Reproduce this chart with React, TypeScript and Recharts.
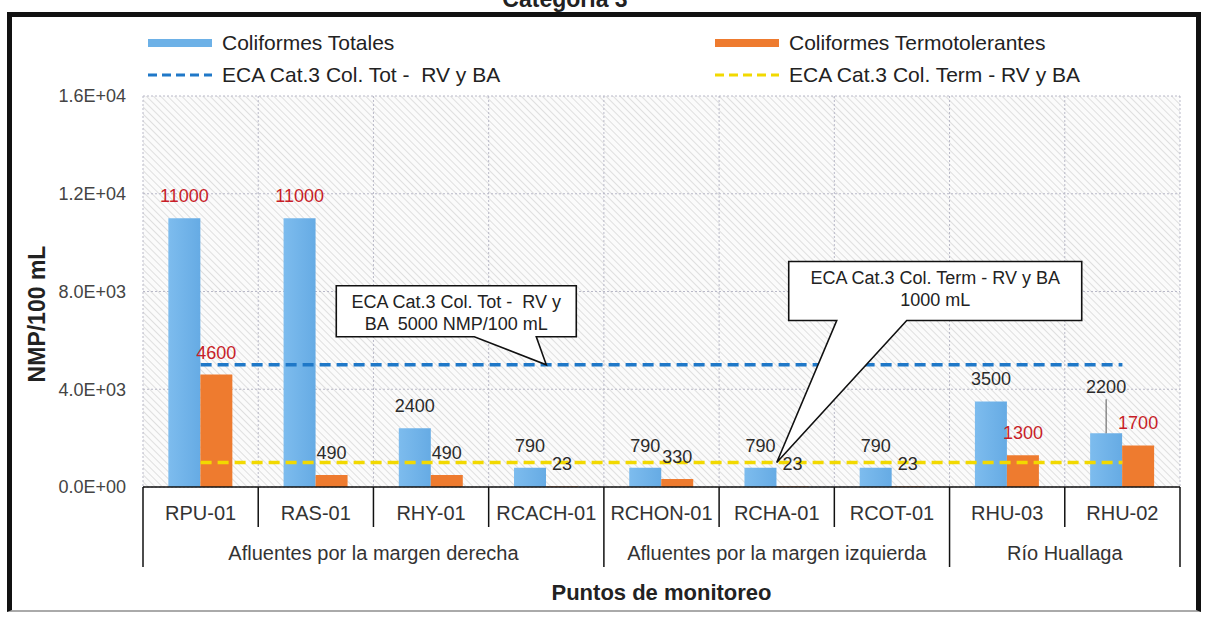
import React from 'react';
import {
  ComposedChart, Bar, Line, XAxis, YAxis, CartesianGrid, LabelList, ReferenceDot,
} from 'recharts';

const categories = ['RPU-01', 'RAS-01', 'RHY-01', 'RCACH-01', 'RCHON-01', 'RCHA-01', 'RCOT-01', 'RHU-03', 'RHU-02'];
const groupNames = ['Afluentes por la margen derecha', 'Afluentes por la margen izquierda', 'Río Huallaga'];
const groupSizes = [4, 3, 2];
const coliformesTotales = [11000, 11000, 2400, 790, 790, 790, 790, 3500, 2200];
const coliformesTermo = [4600, 490, 490, 23, 330, 23, 23, 1300, 1700];
const ecaTotales = 5000;
const ecaTermo = 1000;
const yTicks = [0, 4000, 8000, 12000, 16000];

const data = categories.map((name, i) => ({
  name,
  tot: coliformesTotales[i],
  term: coliformesTermo[i],
  ecaTot: ecaTotales,
  ecaTerm: ecaTermo,
}));

const W = 1206;
const H = 618;
const MARGIN = { top: 96, right: 26, bottom: 0, left: 0 };
const Y_W = 143;
const X_H = 131;
const PLOT_W = W - MARGIN.left - MARGIN.right - Y_W;
const BAND = PLOT_W / categories.length;
const FONT = '"Liberation Sans", Arial, sans-serif';
const RED = '#c81e28';
const DARK = '#2b2b2b';

// label for 2200 is lifted with a leader line so it clears the 1700 label
const raisedLabels: Record<string, number> = { 'RHU-02': 24 };

const sci = (v: number) => {
  if (v === 0) return '0.0E+00';
  const e = Math.floor(Math.log10(v));
  return `${(v / 10 ** e).toFixed(1)}E+${String(e).padStart(2, '0')}`;
};

const groupStarts = groupSizes.map((_, g) => groupSizes.slice(0, g).reduce((a, b) => a + b, 0));

const XTick = (props: any) => {
  const { x, payload, index } = props;
  const y0 = 487;
  const left = x - BAND / 2;
  const g = groupStarts.indexOf(index);
  const last = index === categories.length - 1;
  return (
    <g>
      <text x={x} y={y0 + 26} textAnchor="middle" dominantBaseline="central"
        fontFamily={FONT} fontSize={20} fill="#333">{payload.value}</text>
      <line x1={left} x2={left} y1={y0} y2={g >= 0 ? y0 + 80 : y0 + 40} stroke="#111" strokeWidth={1.5} />
      {last && <line x1={x + BAND / 2} x2={x + BAND / 2} y1={y0} y2={y0 + 80} stroke="#111" strokeWidth={1.5} />}
      {g >= 0 && (
        <text x={left + (groupSizes[g] * BAND) / 2} y={y0 + 66} textAnchor="middle" dominantBaseline="central"
          fontFamily={FONT} fontSize={20} fill="#333">{groupNames[g]}</text>
      )}
    </g>
  );
};

const makeLabel = (limit: number, withRaise: boolean) => (props: any) => {
  const { x, y, width, value, index } = props;
  const cx = x + width / 2;
  const raise = withRaise ? raisedLabels[categories[index]] || 0 : 0;
  const ty = y - 16 - raise;
  return (
    <g>
      <text x={cx} y={ty} textAnchor="middle" fontFamily={FONT} fontSize={18}
        fill={value > limit ? RED : DARK}>{value}</text>
      {raise > 0 && <line x1={cx} x2={cx} y1={ty + 6} y2={y} stroke="#555" strokeWidth={1} />}
    </g>
  );
};

const Callout = (props: any) => {
  const { viewBox, box, base, lines } = props;
  if (!viewBox) return null;
  const tx = viewBox.x;
  const ty = viewBox.y;
  const [bx0, by0, bx1, by1] = box.map((v: number, i: number) => (i % 2 === 0 ? tx + v : ty + v));
  const p0 = tx + base[0];
  const p1 = tx + base[1];
  const d = `M${bx0},${by0} L${bx1},${by0} L${bx1},${by1} L${p1},${by1} L${tx},${ty} L${p0},${by1} L${bx0},${by1} Z`;
  const cx = (bx0 + bx1) / 2;
  return (
    <g>
      <path d={d} fill="#fff" stroke="#111" strokeWidth={1.6} strokeLinejoin="miter" />
      {lines.map((t: string, i: number) => (
        <text key={i} x={cx} y={by0 + 22 + i * 22} textAnchor="middle" fontFamily={FONT}
          fontSize={18} fill="#222" style={{ whiteSpace: 'pre' }}>{t}</text>
      ))}
    </g>
  );
};

const legendItems = [
  { label: 'Coliformes Totales', kind: 'bar', color: '#6db1e7', x: 148, y: 43 },
  { label: 'Coliformes Termotolerantes', kind: 'bar', color: '#ee7b2f', x: 715, y: 43 },
  { label: 'ECA Cat.3 Col. Tot -  RV y BA', kind: 'line', color: '#1f78c8', x: 148, y: 75 },
  { label: 'ECA Cat.3 Col. Term - RV y BA', kind: 'line', color: '#f2d900', x: 715, y: 75 },
];

export default function App() {
  return (
    <div style={{ position: 'absolute', left: 0, top: 0, width: W, height: H, overflow: 'hidden', background: '#fff' }}>
      <div style={{
        position: 'absolute', left: 0, top: -14, width: 1130, textAlign: 'center',
        fontFamily: FONT, fontWeight: 'bold', fontSize: 23, color: '#222',
      }}>Categoría 3</div>
      <div style={{
        position: 'absolute', left: 7, top: 12, width: W - 7 - 5, height: 600,
        borderTop: '5px solid #111', borderLeft: '5px solid #111', borderRight: '5px solid #111',
        borderBottom: '2px solid #aaa', boxSizing: 'border-box',
      }} />
      {legendItems.map((it) => (
        <div key={it.label} style={{
          position: 'absolute', left: it.x, top: it.y - 13, height: 26, display: 'flex', alignItems: 'center',
          fontFamily: FONT, fontSize: 21, color: '#222', whiteSpace: 'pre',
        }}>
          <svg width={66} height={12} style={{ marginRight: 8 }}>
            {it.kind === 'bar'
              ? <rect x={0} y={2} width={64} height={8} fill={it.color} />
              : <line x1={0} x2={64} y1={6} y2={6} stroke={it.color} strokeWidth={3} strokeDasharray="9 5" />}
          </svg>
          {it.label}
        </div>
      ))}
      <div style={{ position: 'absolute', left: 0, top: 0 }}>
        <ComposedChart width={W} height={H} data={data} margin={MARGIN} barCategoryGap="22%" barGap={0}>
          <defs>
            <pattern id="hatch" width="5" height="5" patternUnits="userSpaceOnUse" patternTransform="rotate(-45)">
              <rect width="5" height="5" fill="#fbfbfb" />
              <line x1="0" y1="0" x2="0" y2="5" stroke="#d0d0d0" strokeWidth="1.3" />
            </pattern>
            <linearGradient id="blueBar" x1="0" y1="0" x2="1" y2="0">
              <stop offset="0%" stopColor="#7dbcee" />
              <stop offset="100%" stopColor="#66abe4" />
            </linearGradient>
          </defs>
          <CartesianGrid
            fill="url(#hatch)"
            fillOpacity={1}
            stroke="#b9b9c8"
            strokeDasharray="2 2"
            verticalCoordinatesGenerator={({ offset }: any) =>
              categories.map((_, i) => offset.left + (i * offset.width) / categories.length).concat(offset.left + offset.width)}
          />
          <XAxis
            dataKey="name"
            height={X_H}
            tickSize={0}
            tickMargin={0}
            interval={0}
            axisLine={{ stroke: '#111', strokeWidth: 1.5 }}
            tick={<XTick />}
            label={{
              value: 'Puntos de monitoreo', position: 'insideBottom', offset: 18,
              style: { fontFamily: FONT, fontWeight: 'bold', fontSize: 22, fill: '#222' },
            }}
          />
          <YAxis
            width={Y_W}
            domain={[0, 16000]}
            ticks={yTicks}
            tickFormatter={sci}
            tickSize={0}
            tickMargin={17}
            axisLine={false}
            tick={{ fontFamily: FONT, fontSize: 18, fill: '#444' }}
            label={{
              content: ({ viewBox }: any) => (
                <text x={0} y={0} transform={`translate(${viewBox.x + 37}, 314) rotate(-90)`}
                  textAnchor="middle" dominantBaseline="central"
                  fontFamily={FONT} fontWeight="bold" fontSize={23} fill="#222">NMP/100 mL</text>
              ),
            }}
          />
          <Bar dataKey="tot" name="Coliformes Totales" fill="url(#blueBar)" isAnimationActive={false}>
            <LabelList dataKey="tot" content={makeLabel(ecaTotales, true)} />
          </Bar>
          <Bar dataKey="term" name="Coliformes Termotolerantes" fill="#ee7b2f" isAnimationActive={false}>
            <LabelList dataKey="term" content={makeLabel(ecaTermo, false)} />
          </Bar>
          <Line dataKey="ecaTot" name="ECA Cat.3 Col. Tot -  RV y BA" stroke="#1f78c8" strokeWidth={3.5}
            strokeDasharray="11 6" dot={false} activeDot={false} isAnimationActive={false} />
          <Line dataKey="ecaTerm" name="ECA Cat.3 Col. Term - RV y BA" stroke="#f2d900" strokeWidth={3.5}
            strokeDasharray="11 6" dot={false} activeDot={false} isAnimationActive={false} />
          <ReferenceDot x="RCACH-01" y={ecaTotales} r={0} fill="none" stroke="none"
            label={<Callout box={[-210, -79, 30, -28]} base={[-72, -10]}
              lines={['ECA Cat.3 Col. Tot -  RV y', 'BA  5000 NMP/100 mL']} />} />
          <ReferenceDot x="RCHA-01" y={ecaTermo} r={0} fill="none" stroke="none"
            label={<Callout box={[12, -201, 305, -142]} base={[60, 130]}
              lines={['ECA Cat.3 Col. Term - RV y BA', '1000 mL']} />} />
        </ComposedChart>
      </div>
    </div>
  );
}
